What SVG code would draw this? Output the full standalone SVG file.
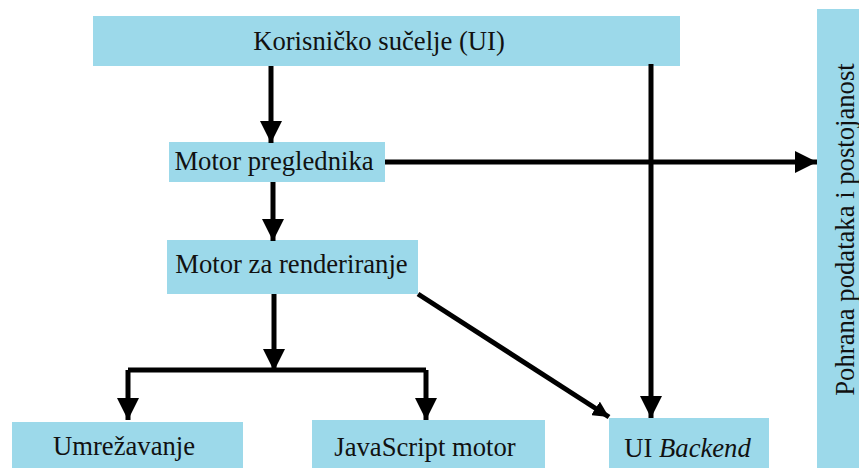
<svg xmlns="http://www.w3.org/2000/svg" width="859" height="468" viewBox="0 0 859 468">
<style>
  .box { fill: #9cd9ea; }
  .lbl { font-size: 26.67px; fill: #111; text-anchor: middle; }
  .con { stroke: #000; stroke-width: 5; fill: none; }
</style>
<defs>
  <marker id="ah" markerUnits="userSpaceOnUse" markerWidth="22" markerHeight="22" refX="22" refY="11" orient="auto">
    <path d="M0,0 L22,11 L0,22 z" fill="#000"/>
  </marker>
  <marker id="ahs" markerUnits="userSpaceOnUse" markerWidth="16" markerHeight="16" refX="16" refY="8" orient="auto">
    <path d="M0,0 L16,8 L0,16 z" fill="#000"/>
  </marker>
</defs>
<rect width="859" height="468" fill="#fff"/>
<g font-family="'Liberation Serif', 'DejaVu Serif', serif">
<g id="ui">
  <rect class="box" x="93" y="16" width="587" height="50"/>
  <text class="lbl" x="379" y="50">Korisničko sučelje (UI)</text>
</g>
<g id="motor-preglednika">
  <rect class="box" x="169" y="142" width="216" height="40"/>
  <text class="lbl" x="274" y="170">Motor preglednika</text>
</g>
<g id="motor-renderiranje">
  <rect class="box" x="167" y="240" width="251" height="54"/>
  <text class="lbl" x="291.5" y="273">Motor za renderiranje</text>
</g>
<g id="umrezavanje">
  <rect class="box" x="12" y="422" width="231" height="46"/>
  <text class="lbl" x="124" y="455">Umrežavanje</text>
</g>
<g id="javascript">
  <rect class="box" x="312" y="420" width="233" height="48"/>
  <text class="lbl" x="425" y="456">JavaScript motor</text>
</g>
<g id="ui-backend">
  <rect class="box" x="609" y="418" width="160" height="50"/>
  <text class="lbl" x="687.5" y="457">UI <tspan font-style="italic">Backend</tspan></text>
</g>
<g id="pohrana">
  <rect class="box" x="817" y="9" width="42" height="459"/>
  <text class="lbl" transform="translate(854,229.5) rotate(-90)" x="0" y="0">Pohrana podataka i postojanost</text>
</g>
</g>
<g id="connectors">
  <line class="con" x1="271" y1="66" x2="271" y2="143" marker-end="url(#ah)"/>
  <line class="con" x1="273" y1="182" x2="273" y2="241" marker-end="url(#ah)"/>
  <line class="con" x1="274" y1="294" x2="274" y2="371" marker-end="url(#ah)"/>
  <path class="con" d="M128,370 H426"/>
  <line class="con" x1="128" y1="370" x2="128" y2="420" marker-end="url(#ah)"/>
  <line class="con" x1="426" y1="370" x2="426" y2="420" marker-end="url(#ah)"/>
  <line class="con" x1="651" y1="64" x2="651" y2="418" marker-end="url(#ah)"/>
  <line class="con" x1="385" y1="162" x2="817" y2="162" marker-end="url(#ah)"/>
  <line class="con" x1="418" y1="294" x2="609" y2="417" marker-end="url(#ahs)"/>
</g>
</svg>
